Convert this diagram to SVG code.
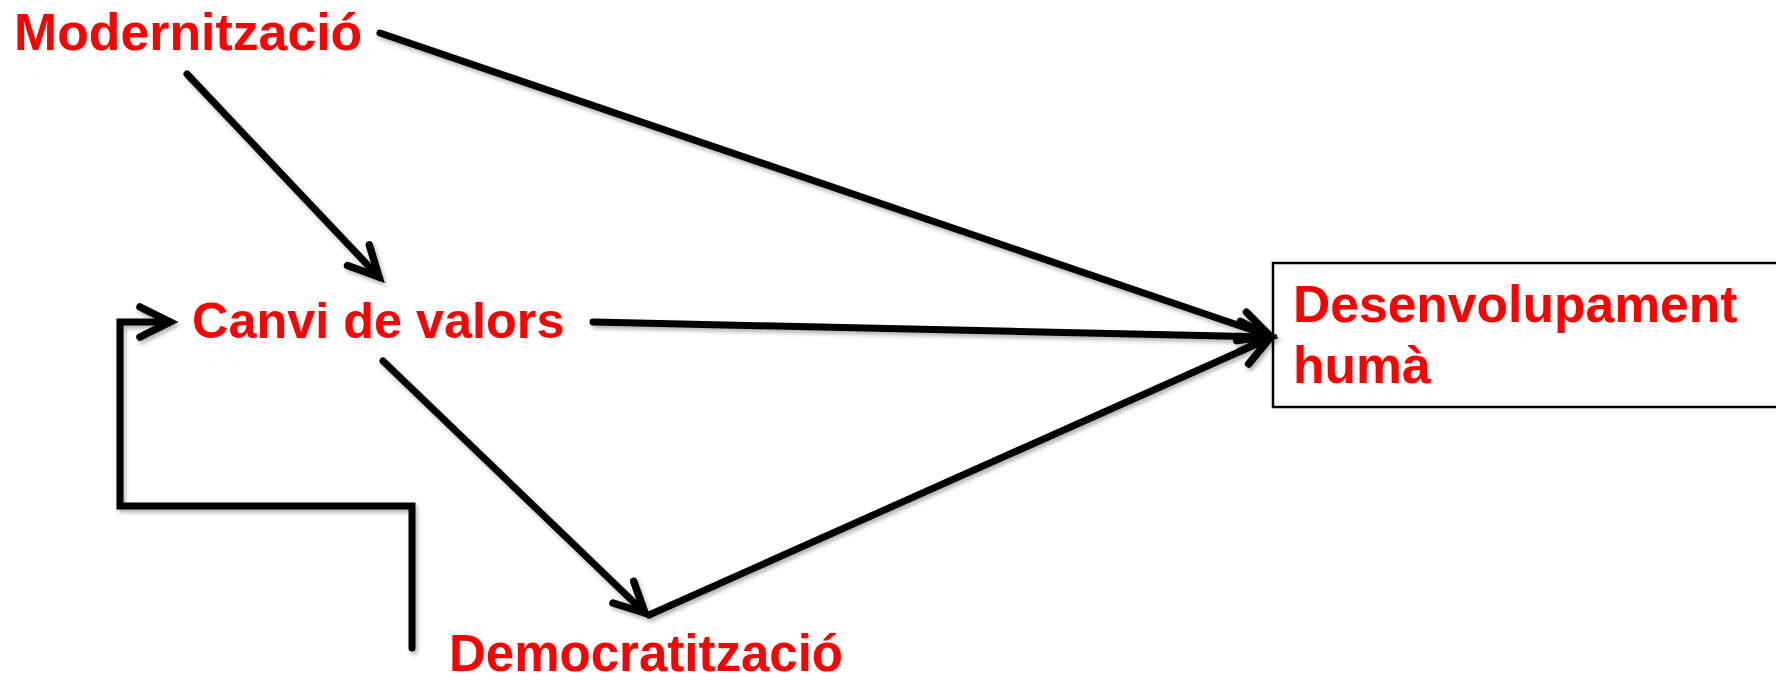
<svg xmlns="http://www.w3.org/2000/svg" width="1776" height="675" viewBox="0 0 1776 675">
  <defs>
    <style>
      .lbl { font-family: "Liberation Sans", Arial, sans-serif; font-weight: bold; font-size: 51px; fill: #FF0000; }
      .conn { fill: none; stroke: #000; stroke-width: 7; stroke-linecap: round; stroke-linejoin: miter; }
      .box { fill: #fff; stroke: #000; stroke-width: 2.5; }
    </style>
    <marker id="arr" markerUnits="userSpaceOnUse" viewBox="-40 -25 55 50" refX="0" refY="0" markerWidth="55" markerHeight="50" orient="auto" overflow="visible">
      <path d="M -30,-15 L 0,0 L -30,15" fill="none" stroke="#000" stroke-width="7.5" stroke-linecap="round" stroke-linejoin="miter"/>
    </marker>
    <filter id="sh" x="-10%" y="-10%" width="120%" height="120%">
      <feDropShadow dx="2" dy="3" stdDeviation="2" flood-color="#000" flood-opacity="0.3"/>
    </filter>
  </defs>

  <g id="node-desenvolupament">
    <rect class="box" x="1273" y="263" width="530" height="144"/>
    <text class="lbl" x="1293" y="322" style="font-size:51.6px">Desenvolupament</text>
    <text class="lbl" x="1293" y="383" style="font-size:51.6px">humà</text>
  </g>

  <g id="connectors" filter="url(#sh)">
    <line class="conn" x1="380" y1="33" x2="1270" y2="336" marker-end="url(#arr)"/>
    <line class="conn" x1="187" y1="74" x2="379" y2="277" marker-end="url(#arr)"/>
    <line class="conn" x1="593" y1="322" x2="1270" y2="337" marker-end="url(#arr)"/>
    <line class="conn" x1="383" y1="361" x2="645" y2="613" marker-end="url(#arr)"/>
    <line class="conn" x1="649" y1="615" x2="1270" y2="338" marker-end="url(#arr)"/>
    <path class="conn" d="M 412,648 L 412,506 L 120,506 L 120,322 L 170,322" stroke-linecap="butt" marker-end="url(#arr)"/>
  </g>

  <g id="node-modernitzacio">
    <text class="lbl" x="14" y="50" style="font-size:51.8px">Modernització</text>
  </g>
  <g id="node-canvi">
    <text class="lbl" x="192" y="338" style="font-size:50.4px">Canvi de valors</text>
  </g>
  <g id="node-democratitzacio">
    <text class="lbl" x="449" y="671">Democratització</text>
  </g>
</svg>
